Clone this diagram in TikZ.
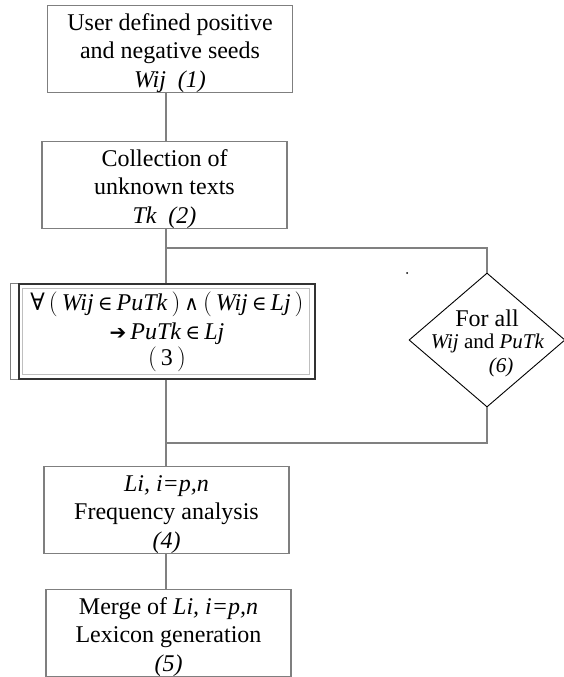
\documentclass[tikz,border=0pt]{standalone}
\usepackage{fontspec}
\setmainfont{Liberation Serif}
\newfontfamily\dejavu{DejaVu Sans}
\newfontfamily\dejavuserif{DejaVu Serif}
\usetikzlibrary{shapes.geometric}
\definecolor{linegray}{HTML}{808080}
\definecolor{boxgray}{HTML}{7F7F7F}
\newcommand{\tstrut}{\rule{0pt}{25pt}}
\begin{document}
\begin{tikzpicture}[x=1pt,y=-1pt,
  txt/.style={font=\fontsize{24}{28.5}\selectfont},
  stxt/.style={font=\fontsize{21}{24}\selectfont, inner sep=0pt},
  box/.style={txt, draw=boxgray, line width=1.8pt, align=center, inner sep=0pt,
              minimum width=245pt, minimum height=84pt},
  conn/.style={draw=linegray, line width=1.6pt}]
\useasboundingbox (0,0) rectangle (563,677);

\node[box] (b1) at (170,49) {\tstrut User defined positive\\and negative seeds\\\textit{Wij\ \ (1)}};
\node[box] (b2) at (164.5,185) {\tstrut Collection of\\unknown texts\\\textit{Tk\ \ (2)}};
\node[txt, draw=black!80, line width=1.8pt, align=center, inner sep=0pt,
      minimum width=296pt, minimum height=95pt] (b3) at (167,331.5)
  {{\dejavuserif ∀}\,$\bigl($\,\textit{Wij}\,{\dejavuserif\fontsize{20}{24}\selectfont ∈}\,\textit{PuTk}\,$\bigr)$\,{\dejavuserif\fontsize{20}{24}\selectfont ∧}\,$\bigl($\,\textit{Wij}\,{\dejavuserif\fontsize{20}{24}\selectfont ∈}\,\textit{Lj}\,$\bigr)$\\[1pt]
   {\dejavu\fontsize{20}{24}\selectfont ➔}\,\textit{PuTk}\,{\dejavuserif\fontsize{20}{24}\selectfont ∈}\,\textit{Lj}\\[-3pt]
   $\bigl($\,3\,$\bigr)$};
\draw[black!25, line width=1pt] ([shift={(4pt,-5pt)}]b3.north west) rectangle ([shift={(-6pt,5pt)}]b3.south east);
\draw[linegray, line width=1pt] (b3.north west) -| ([xshift=-8pt]b3.south west) -- (b3.south west);
\node[box] (b4) at (166.5,510) {\tstrut\textit{Li, i=p,n}\\Frequency analysis\\\textit{(4)}};
\node[box, minimum height=82pt] (b5) at (168.5,633) {\tstrut Merge of \textit{Li, i=p,n}\\Lexicon generation\\\textit{(5)}};

\node[diamond, draw=black, line width=0.9pt, inner sep=0pt,
      minimum width=156pt, minimum height=134pt] (d) at (487,340) {};
\node[txt, inner sep=0pt] (dt1) at (487,318) {For all};
\node[stxt] (dt2) at (487.5,343) {\textit{Wij} and \textit{PuTk}};
\node[stxt] (dt3) at (501,367) {\textit{(6)}};
\node[circle, fill=black, inner sep=0pt, minimum size=2pt] (dot) at (407,273) {};

\coordinate (sp) at (166,0);
\coordinate (j1) at (166,248);
\coordinate (j2) at (166,443);
\draw[conn] (b1.south -| sp) -- (b2.north -| sp);
\draw[conn] (b2.south -| sp) -- (b3.north -| sp);
\draw[conn] (j1) -| (d.north);
\draw[conn] (b3.south -| sp) -- (b4.north -| sp);
\draw[conn] (d.south) |- (j2);
\draw[conn] (b4.south -| sp) -- (b5.north -| sp);
\end{tikzpicture}
\end{document}
